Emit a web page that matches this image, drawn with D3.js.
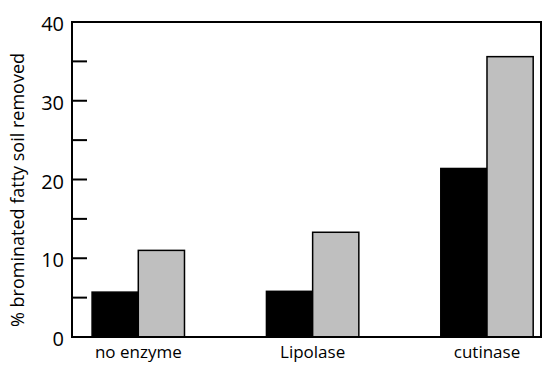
<!DOCTYPE html>
<html>
<head>
<meta charset="utf-8">
<script src="https://cdn.jsdelivr.net/npm/d3@7"></script>
<style>
  body { margin: 0; background: #fff; }
  text { font-family: "Open Sans", sans-serif; fill: #000; }
</style>
</head>
<body>
<div id="chart"></div>
<script>
var categories = ["no enzyme", "Lipolase", "cutinase"];
var seriesNames = ["black", "gray"];
var blackValues = [5.7, 5.8, 21.4];
var grayValues = [11.0, 13.3, 35.6];
var majorTicks = [0, 10, 20, 30, 40];
var minorTicks = [5, 15, 25, 35];

var width = 550, height = 371;
var box = {left: 72, right: 541, top: 22, bottom: 337};
var colors = {black: "#000000", gray: "#bfbfbf"};

var svg = d3.select("#chart").append("svg")
  .attr("width", width)
  .attr("height", height);

var y = d3.scaleLinear().domain([0, 40]).range([box.bottom, box.top]);

var x = d3.scaleBand()
  .domain(categories)
  .range([box.left, box.right])
  .paddingInner(0.47)
  .paddingOuter(0.08)
  .align(0.72);

var xSub = d3.scaleBand().domain(seriesNames).range([0, x.bandwidth()]);

var rows = categories.map(function(c, i){
  return {cat: c, values: [{s: "black", v: blackValues[i]}, {s: "gray", v: grayValues[i]}]};
});

// bars
var groups = svg.selectAll("g.grp")
  .data(rows)
  .enter().append("g")
  .attr("class", "grp")
  .attr("transform", function(d){ return "translate(" + x(d.cat) + ",0)"; });

groups.selectAll("rect")
  .data(function(d){ return d.values; })
  .enter().append("rect")
  .attr("x", function(d){ return xSub(d.s); })
  .attr("width", xSub.bandwidth())
  .attr("y", function(d){ return y(d.v); })
  .attr("height", function(d){ return y(0) - y(d.v); })
  .style("fill", function(d){ return colors[d.s]; })
  .style("stroke", "#000")
  .style("stroke-width", 1.5);

// frame
svg.append("rect")
  .attr("x", box.left)
  .attr("y", box.top)
  .attr("width", box.right - box.left)
  .attr("height", box.bottom - box.top)
  .style("fill", "none")
  .style("stroke", "#000")
  .style("stroke-width", 2);

// ticks point inward
svg.selectAll("line.tick")
  .data(majorTicks.concat(minorTicks).filter(function(t){ return t > 0 && t < 40; }))
  .enter().append("line")
  .attr("class", "tick")
  .attr("x1", box.left)
  .attr("x2", box.left + 15)
  .attr("y1", function(d){ return y(d); })
  .attr("y2", function(d){ return y(d); })
  .style("stroke", "#000")
  .style("stroke-width", 2);

svg.selectAll("text.ylab")
  .data(majorTicks)
  .enter().append("text")
  .attr("class", "ylab")
  .attr("x", 64)
  .attr("y", function(d){ return y(d) + 9; })
  .attr("text-anchor", "end")
  .style("font-size", "20px")
  .text(function(d){ return d; });

svg.selectAll("text.xlab")
  .data(categories)
  .enter().append("text")
  .attr("class", "xlab")
  .attr("x", function(d){ return x(d) + x.bandwidth() / 2; })
  .attr("y", 358)
  .attr("text-anchor", "middle")
  .style("font-size", "17px")
  .text(function(d){ return d; });

svg.append("text")
  .attr("transform", "translate(24,190) rotate(-90)")
  .attr("text-anchor", "middle")
  .style("font-size", "18px")
  .text("% brominated fatty soil removed");
</script>
</body>
</html>
